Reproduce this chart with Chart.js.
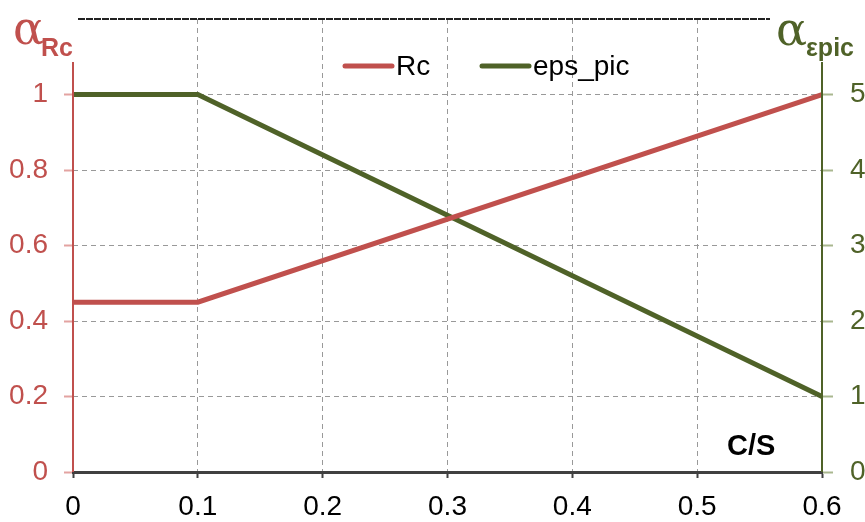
<!DOCTYPE html>
<html>
<head>
<meta charset="utf-8">
<script src="https://cdn.jsdelivr.net/npm/chart.js@4.4.1/dist/chart.umd.min.js"></script>
<style>
  html, body { margin: 0; padding: 0; background: #fff; }
  #wrap { width: 865px; height: 522px; }
</style>
</head>
<body>
<div id="wrap"><canvas id="myChart" width="865" height="522"></canvas></div>
<script>
// data
const csValues = [0, 0.1, 0.6];
const rcValues = [0.45, 0.45, 1.0];
const epsPicValues = [5, 5, 1];
const xTicks = [0, 0.1, 0.2, 0.3, 0.4, 0.5, 0.6];
const seriesNames = ['Rc', 'eps_pic'];

const RED = '#c0504d';
const GREEN = '#4f6228';
const FONT = '"Liberation Sans", Arial, sans-serif';

function round1(v) { return Math.round(v * 10) / 10; }

// extra drawing: axis lines, titles, legend, C/S
const decorations = {
    id: 'decorations',
    afterDraw: (chart) => {
        const {ctx, chartArea: {left, right, top, bottom}} = chart;
        ctx.save();
        // top line
        ctx.strokeStyle = '#222';
        ctx.lineWidth = 2;
        ctx.setLineDash([7, 1]);
        ctx.beginPath();
        ctx.moveTo(left + 5, top);
        ctx.lineTo(right - 52, top);
        ctx.stroke();
        ctx.setLineDash([]);

        // left / right axis lines
        ctx.lineWidth = 2;
        ctx.strokeStyle = RED;
        ctx.beginPath();
        ctx.moveTo(left, top + 43);
        ctx.lineTo(left, bottom);
        ctx.stroke();
        ctx.strokeStyle = GREEN;
        ctx.beginPath();
        ctx.moveTo(right, top + 43);
        ctx.lineTo(right, bottom);
        ctx.stroke();

        // axis titles
        ctx.textAlign = 'left';
        ctx.textBaseline = 'alphabetic';
        ctx.fillStyle = RED;
        ctx.font = '46px "DejaVu Serif", "Liberation Serif", serif';
        ctx.fillText('α', 13, 44);
        ctx.font = 'bold 25px ' + FONT;
        ctx.fillText('Rc', 41, 56);
        ctx.fillStyle = GREEN;
        ctx.font = '46px "DejaVu Serif", "Liberation Serif", serif';
        ctx.fillText('α', 776, 45);
        ctx.font = 'bold 25px ' + FONT;
        ctx.fillText('εpic', 806, 56);

        // legend
        ctx.textBaseline = 'middle';
        ctx.font = '28px ' + FONT;
        const legendPos = [343, 480];
        chart.data.datasets.forEach((ds, i) => {
            const x = legendPos[i];
            ctx.strokeStyle = ds.borderColor;
            ctx.lineWidth = 5;
            ctx.lineCap = 'round';
            ctx.beginPath();
            ctx.moveTo(x + 2, 66);
            ctx.lineTo(x + 49, 66);
            ctx.stroke();
            ctx.fillStyle = '#000';
            ctx.fillText(ds.label, x + 53, 67);
        });

        // C/S
        ctx.font = 'bold 29px ' + FONT;
        ctx.fillStyle = '#000';
        ctx.textAlign = 'left';
        ctx.textBaseline = 'alphabetic';
        ctx.fillText('C/S', 727, 455);
        ctx.restore();
    }
};

const data = {
    datasets: [{
        label: seriesNames[0],
        data: csValues.map((x, i) => ({x: x, y: rcValues[i]})),
        borderColor: RED,
        backgroundColor: RED,
        borderWidth: 5,
        pointRadius: 0,
        tension: 0,
        yAxisID: 'y'
    }, {
        label: seriesNames[1],
        data: csValues.map((x, i) => ({x: x, y: epsPicValues[i]})),
        borderColor: GREEN,
        backgroundColor: GREEN,
        borderWidth: 5,
        pointRadius: 0,
        tension: 0,
        yAxisID: 'y2'
    }]
};

const config = {
    type: 'line',
    data,
    options: {
        responsive: false,
        animation: false,
        layout: { padding: { top: 19, left: 0, right: 0, bottom: 0 } },
        plugins: {
            legend: { display: false },
            tooltip: { enabled: false }
        },
        scales: {
            x: {
                type: 'linear',
                min: 0,
                max: 0.6,
                afterBuildTicks: (scale) => { scale.ticks = xTicks.map(v => ({value: v})); },
                afterFit: (scale) => { scale.height = 50; },
                ticks: {
                    color: '#000',
                    font: { family: FONT, size: 28 },
                    padding: 12,
                    maxRotation: 0,
                    callback: (v) => String(round1(v))
                },
                grid: {
                    color: (c) => (c.tick && (c.tick.value === 0 || round1(c.tick.value) === 0.6)) ? 'rgba(0,0,0,0)' : '#999',
                    lineWidth: 1,
                    tickLength: 6,
                    tickColor: '#404040',
                    tickWidth: 2
                },
                border: { display: true, color: '#404040', width: 3, dash: [5, 4] }
            },
            y: {
                position: 'left',
                min: 0,
                max: 1.2,
                ticks: {
                    stepSize: 0.2,
                    color: RED,
                    font: { family: FONT, size: 28 },
                    padding: 16,
                    callback: (v) => round1(v) > 1.05 ? null : String(round1(v))
                },
                afterFit: (scale) => { scale.width = 73; scale.paddingTop = 0; scale.paddingBottom = 0; },
                grid: {
                    color: (c) => (c.tick && c.tick.value === 0) ? 'rgba(0,0,0,0)' : '#999',
                    lineWidth: 1,
                    tickLength: 9,
                    tickColor: '#e3a3a1',
                    tickWidth: 2
                },
                border: { display: false, dash: [5, 4] }
            },
            y2: {
                position: 'right',
                min: 0,
                max: 6,
                ticks: {
                    stepSize: 1,
                    color: GREEN,
                    font: { family: FONT, size: 28 },
                    padding: 17,
                    callback: (v) => v > 5.5 ? null : String(v)
                },
                afterFit: (scale) => { scale.width = 43; scale.paddingTop = 0; scale.paddingBottom = 0; },
                grid: {
                    drawOnChartArea: false,
                    tickLength: 11,
                    tickColor: '#a9b78f',
                    tickWidth: 2
                },
                border: { display: false }
            }
        }
    },
    plugins: [decorations]
};

const myChart = new Chart(document.getElementById('myChart'), config);
</script>
</body>
</html>
